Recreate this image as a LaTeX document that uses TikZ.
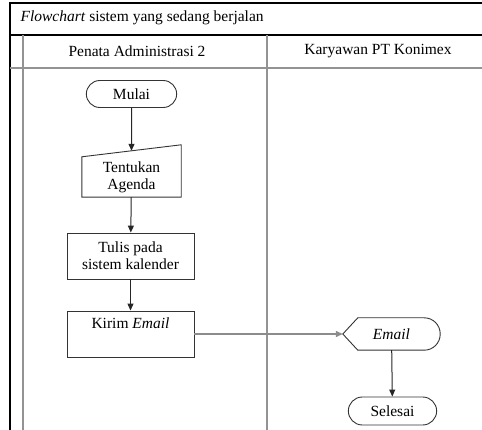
\documentclass[tikz,border=0pt]{standalone}
\usepackage{fontspec}
\setmainfont{Liberation Serif}
\usetikzlibrary{shapes.misc,arrows.meta,calc}

\tikzset{
  frame/.style={line width=1.3pt,black},
  lane/.style={line width=1.6pt,gray!85},
  box/.style={draw=black!80,line width=0.9pt},
  term/.style={box,rounded rectangle,minimum width=97pt,minimum height=27pt},
  proc/.style={box,rectangle,minimum width=127pt,minimum height=46pt,align=center},
  flow/.style={-{Triangle[length=7pt,width=6pt]},line width=1pt,black!85}
}

\begin{document}
\begin{tikzpicture}[x=1pt,y=-1pt,font=\fontsize{15.5}{17}\selectfont]
\useasboundingbox (0,0) rectangle (482,430);

% kerangka
\draw[frame] (10,430)--(10,3)--(482,3);
\draw[frame] (10,35)--(482,35);
\draw[lane] (23,35)--(23,430);
\draw[lane] (10,68)--(482,68);
\draw[lane] (267,35)--(267,430);

\node[anchor=west] (judul) at (17,18) {\textit{Flowchart} sistem yang sedang berjalan};
\node (penata) at (137,51) {Penata Administrasi 2};
\node (karyawan) at (378,51) {Karyawan PT Konimex};

% penata administrasi
\node[term] (mulai) at (131.5,94) {Mulai};
\node[minimum width=99pt,minimum height=40pt,align=center] (agenda) at (131.5,177) {Tentukan\\Agenda};
\draw[box] (agenda.south west)--(agenda.north west)--($(agenda.north east)+(0,-12)$)--(agenda.south east)--cycle;
\coordinate (agendatop) at ($(agenda.north)+(0,-6)$);
\node[proc] (tulis) at (130.5,256) {Tulis pada\\sistem kalender};
\node[proc] (kirim) at (130.5,334) {Kirim \textit{Email}\\ \strut};

% karyawan
\node[minimum width=97pt,minimum height=32pt] (email) at (391.5,334) {\textit{Email}};
\draw[box] (email.west)--($(email.north west)+(15,0)$)
  [rounded corners=16pt]--(email.north east)--(email.south east)
  [sharp corners]--($(email.south west)+(15,0)$)--cycle;
\node[term,minimum width=95pt,minimum height=28pt] (selesai) at (392.5,411) {Selesai};

\draw[flow] (mulai) -- (agendatop);
\draw[flow] (agenda) -- (tulis);
\draw[flow] (tulis) -- (kirim);
\draw[flow,gray!90,line width=1.3pt] (kirim) -- (email);
\draw[flow] (email) -- (selesai);

\end{tikzpicture}
\end{document}
